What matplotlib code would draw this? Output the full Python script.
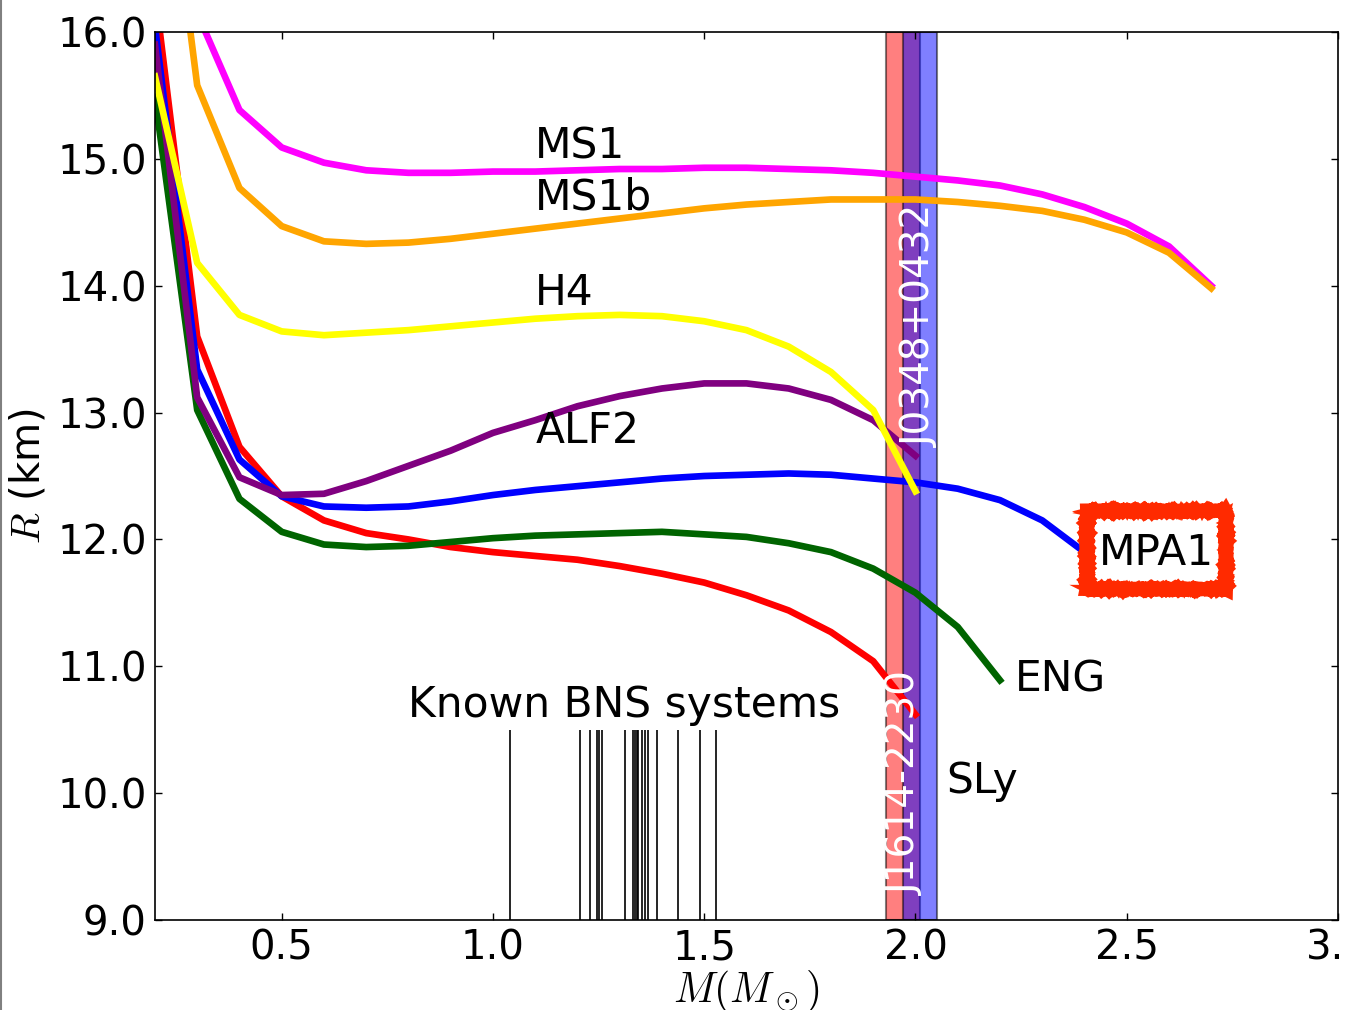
import matplotlib
matplotlib.use("Agg")
import matplotlib.pyplot as plt
from matplotlib.patches import Rectangle
from matplotlib.lines import Line2D

plt.rcParams['font.family'] = ['DejaVu Sans']
plt.rcParams['mathtext.fontset'] = 'cm'

# mass grid (solar masses)
mass = [0.2, 0.3, 0.4, 0.5, 0.6, 0.7, 0.8, 0.9, 1.0, 1.1, 1.2, 1.3, 1.4,
        1.5, 1.6, 1.7, 1.8, 1.9, 2.0, 2.1, 2.2, 2.3, 2.4, 2.5, 2.6, 2.7]

# radii (km) for each EOS
r_sly = [16.32, 13.60, 12.73, 12.34, 12.15, 12.05, 12.00, 11.94, 11.90, 11.87,
         11.84, 11.79, 11.73, 11.66, 11.56, 11.44, 11.27, 11.04, 10.62]
r_eng = [15.49, 13.02, 12.32, 12.06, 11.96, 11.94, 11.95, 11.98, 12.01, 12.03,
         12.04, 12.05, 12.06, 12.04, 12.02, 11.97, 11.90, 11.77, 11.58, 11.31, 10.89]
r_mpa1 = [16.05, 13.34, 12.63, 12.34, 12.26, 12.25, 12.26, 12.30, 12.35, 12.39,
          12.42, 12.45, 12.48, 12.50, 12.51, 12.52, 12.51, 12.48, 12.45, 12.40,
          12.31, 12.15, 11.90]
r_alf2 = [15.90, 13.12, 12.49, 12.35, 12.36, 12.46, 12.58, 12.70, 12.84, 12.94,
          13.05, 13.13, 13.19, 13.23, 13.23, 13.19, 13.10, 12.94, 12.66]
r_h4 = [15.65, 14.18, 13.77, 13.64, 13.61, 13.63, 13.65, 13.68, 13.71, 13.74,
        13.76, 13.77, 13.76, 13.72, 13.65, 13.52, 13.32, 13.02, 12.38]
r_ms1 = [19.0, 16.15, 15.385, 15.09, 14.97, 14.91, 14.89, 14.89, 14.90, 14.90,
         14.91, 14.92, 14.92, 14.93, 14.93, 14.92, 14.91, 14.89, 14.86, 14.83,
         14.79, 14.72, 14.62, 14.49, 14.31, 14.00]
r_ms1b = [18.2, 15.58, 14.77, 14.47, 14.35, 14.33, 14.34, 14.37, 14.41, 14.45,
          14.49, 14.53, 14.57, 14.61, 14.64, 14.66, 14.68, 14.68, 14.68, 14.66,
          14.63, 14.59, 14.52, 14.42, 14.26, 13.98]

# known binary neutron star masses
bns_masses = [1.040, 1.205, 1.229, 1.247, 1.251, 1.259, 1.312, 1.332, 1.335,
              1.340, 1.344, 1.353, 1.359, 1.367, 1.389, 1.439, 1.490, 1.529]

# pulsar mass measurements (centre, half-width)
j1614 = (1.97, 0.04)
j0348 = (2.01, 0.04)

fig = plt.figure(figsize=(13.45, 10.10), dpi=100)
ax = fig.add_axes([0.1152, 0.0891, 0.8796, 0.8792])

ax.axvspan(j1614[0] - j1614[1], j1614[0] + j1614[1], facecolor='red',
           edgecolor='k', lw=1.5, alpha=0.5, zorder=1)
ax.axvspan(j0348[0] - j0348[1], j0348[0] + j0348[1], facecolor='blue',
           edgecolor='k', lw=1.5, alpha=0.5, zorder=1)

lw = 4.8
ax.plot(mass[:len(r_sly)], r_sly, color='red', lw=lw, zorder=2)
ax.plot(mass[:len(r_eng)], r_eng, color='darkgreen', lw=lw, zorder=2)
ax.plot(mass[:len(r_mpa1)], r_mpa1, color='blue', lw=lw, zorder=2)
ax.plot(mass[:len(r_alf2)], r_alf2, color='purple', lw=lw, zorder=2)
ax.plot(mass[:len(r_h4)], r_h4, color='yellow', lw=lw, zorder=2)
ax.plot(mass[:len(r_ms1)], r_ms1, color='magenta', lw=lw, zorder=2)
ax.plot(mass[:len(r_ms1b)], r_ms1b, color='orange', lw=lw, zorder=2)

ax.vlines(bns_masses, 9.0, 10.5, color='k', lw=1.2, zorder=2)

fs = 30.5
ax.text(1.1, 15.0, 'MS1', fontsize=fs)
ax.text(1.1, 14.6, 'MS1b', fontsize=fs)
ax.text(1.1, 13.85, 'H4', fontsize=fs)
ax.text(1.1, 12.76, 'ALF2', fontsize=fs)
ax.text(0.8, 10.6, 'Known BNS systems', fontsize=fs)
ax.text(2.236, 10.8, 'ENG', fontsize=fs)
ax.text(2.073, 10.0, 'SLy', fontsize=fs)
ax.text(2.433, 11.8, 'MPA1', fontsize=fs)
ax.text(1.975, 9.2, 'J1614-2230', fontsize=28, color='white', rotation=90,
        ha='center', va='bottom', zorder=3)
ax.text(2.01, 12.73, 'J0348+0432', fontsize=28, color='white', rotation=90,
        ha='center', va='bottom', zorder=3)

# hand-drawn looking highlight box around MPA1
for k in range(3):
    box = Rectangle((2.406, 11.609), 0.33, 0.615, fill=False,
                    edgecolor='#ff2a00', lw=[10, 6, 6][k], zorder=4)
    box.set_sketch_params(scale=[0.6, 1.0, 1.0][k], length=[1.5, 2.0, 3.0][k],
                          randomness=[3, 6, 9][k])
    ax.add_patch(box)

ax.set_xlim(0.2, 3.0)
ax.set_ylim(9.0, 16.0)
ax.set_xticks([0.5, 1.0, 1.5, 2.0, 2.5, 3.0])
ax.set_xticklabels(['0.5', '1.0', '1.5', '2.0', '2.5', '3.0'])
ax.set_yticks([9, 10, 11, 12, 13, 14, 15, 16])
ax.set_yticklabels(['9.0', '10.0', '11.0', '12.0', '13.0', '14.0', '15.0', '16.0'])
ax.tick_params(direction='in', top=True, right=True, length=5, width=1,
               labelsize=29, pad=6)
for s in ax.spines.values():
    s.set_linewidth(1.2)

ax.set_xlabel(r'$M(M_\odot)$', fontsize=30, labelpad=0)
ax.set_ylabel(r'$R$ (km)', fontsize=29, labelpad=6)

fig.add_artist(Line2D([0.0008, 0.0008], [0, 1], transform=fig.transFigure,
                      color='gray', lw=1.5))

fig.savefig('out.png', dpi=100)
